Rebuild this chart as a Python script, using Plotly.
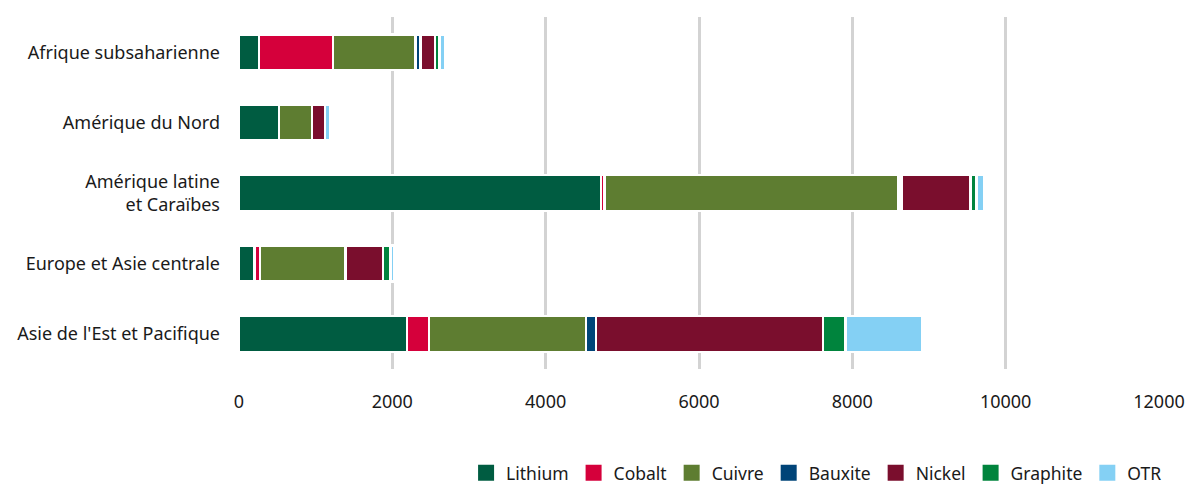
import plotly.graph_objects as go

# Regions shown top to bottom
regions = [
    "Afrique subsaharienne",
    "Amérique du Nord",
    "Amérique latine<br>et Caraïbes",
    "Europe et Asie centrale",
    "Asie de l'Est et Pacifique",
]

# Values per mineral, one entry per region (same order as above)
lithium = [262, 520, 4720, 200, 2190]
cobalt = [964, 0, 45, 76, 290]
cuivre = [1073, 430, 3835, 1110, 2045]
bauxite = [70, 0, 40, 0, 130]
nickel = [189, 170, 900, 493, 2965]
graphite = [56, 0, 80, 100, 290]
otr = [80, 65, 100, 50, 1000]

series = [
    ("Lithium", lithium, "#005C41"),
    ("Cobalt", cobalt, "#D5003B"),
    ("Cuivre", cuivre, "#5E7D31"),
    ("Bauxite", bauxite, "#004478"),
    ("Nickel", nickel, "#7A0E2D"),
    ("Graphite", graphite, "#00843D"),
    ("OTR", otr, "#84D0F4"),
]

x_ticks = [0, 2000, 4000, 6000, 8000, 10000, 12000]

font_family = "Noto Sans, Open Sans, sans-serif"

fig = go.Figure()
for name, values, color in series:
    fig.add_trace(
        go.Bar(
            name=name,
            y=regions,
            x=values,
            orientation="h",
            marker=dict(color=color, line=dict(color="white", width=2.5)),
            showlegend=False,
        )
    )

# Legend entries with larger square swatches
for name, values, color in series:
    fig.add_trace(
        go.Scatter(
            name=name,
            x=[None],
            y=[None],
            mode="markers",
            marker=dict(symbol="square", size=16, color=color),
            showlegend=True,
            hoverinfo="skip",
        )
    )

fig.update_layout(
    barmode="stack",
    bargap=0.49,
    width=1197,
    height=484,
    margin=dict(l=239, r=38, t=17, b=115, autoexpand=False),
    paper_bgcolor="white",
    plot_bgcolor="white",
    font=dict(family=font_family, size=18, color="#1a1a1a"),
    legend=dict(
        orientation="h",
        xref="container",
        yref="container",
        x=0.975,
        xanchor="right",
        y=0.023,
        yanchor="middle",
        font=dict(size=17.5, color="#1a1a1a"),
        traceorder="normal",
        itemwidth=30,
        itemsizing="trace",
    ),
    xaxis=dict(
        range=[0, 12000],
        tickvals=x_ticks,
        ticktext=[str(v) for v in x_ticks],
        showgrid=True,
        gridcolor="#d3d3d3",
        gridwidth=2.5,
        zeroline=False,
        showline=False,
        ticklabelstandoff=20,
        tickfont=dict(size=18),
    ),
    yaxis=dict(
        autorange="reversed",
        showgrid=False,
        showline=False,
        ticklabelstandoff=18,
        tickfont=dict(size=18),
    ),
)

fig.write_html("out.html")
